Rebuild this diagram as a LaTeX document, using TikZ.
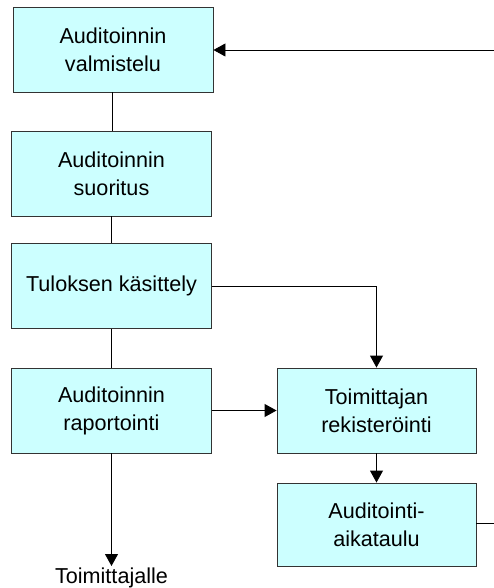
\documentclass[tikz,border=0pt]{standalone}
\usepackage{fontspec}
\setmainfont{Liberation Sans}
\usetikzlibrary{arrows.meta}
\definecolor{boxfill}{HTML}{CCFFFF}
\definecolor{boxline}{HTML}{333333}
\begin{document}
\begin{tikzpicture}[x=1pt,y=-1pt,
  procbox/.style={draw=boxline,fill=boxfill,line width=0.9pt,minimum width=200pt,
    minimum height=85pt,align=center,inner sep=0pt,
    font=\fontsize{21.6}{28}\selectfont},
  link/.style={line width=0.9pt,draw=black},
  arr/.style={link,-{Triangle[width=13pt,length=12pt]}}]
\useasboundingbox (0,0) rectangle (494,588);
% left column
\node[procbox] (valm) at (113,49.5) {Auditoinnin\\valmistelu};
\node[procbox] (suor) at (111.5,173.5) {Auditoinnin\\suoritus};
\node[procbox] (tulos) at (111.5,286) {Tuloksen käsittely};
\node[procbox] (rap) at (111.5,410.5) {Auditoinnin\\raportointi};
\node[font=\fontsize{21.6}{28}\selectfont,inner sep=2pt,anchor=north] (toim) at (111.5,566) {Toimittajalle};
% right column
\node[procbox,minimum width=199pt] (rek) at (376.5,410.5) {Toimittajan\\rekisteröinti};
\node[procbox,minimum width=199pt,minimum height=83pt] (aik) at (376.5,524.5) {Auditointi-\\aikataulu};
\coordinate (edgeTop) at (494,50);
\coordinate (edgeBot) at (494,523);
% connectors
\draw[link] (valm.south -| 112.5,0) -- (suor.north -| 112.5,0);
\draw[link] (suor) -- (tulos);
\draw[link] (tulos) -- (rap);
\draw[arr] (rap.south) -- (toim.north);
\draw[arr] (tulos.east) -| (rek.north);
\draw[arr] (rap.east) -- (rek.west);
\draw[arr] (rek.south) -- (aik.north);
\draw[link] (aik.east |- edgeBot) -- (edgeBot);
\draw[arr] (edgeTop) -- (valm.east |- edgeTop);
\end{tikzpicture}
\end{document}
